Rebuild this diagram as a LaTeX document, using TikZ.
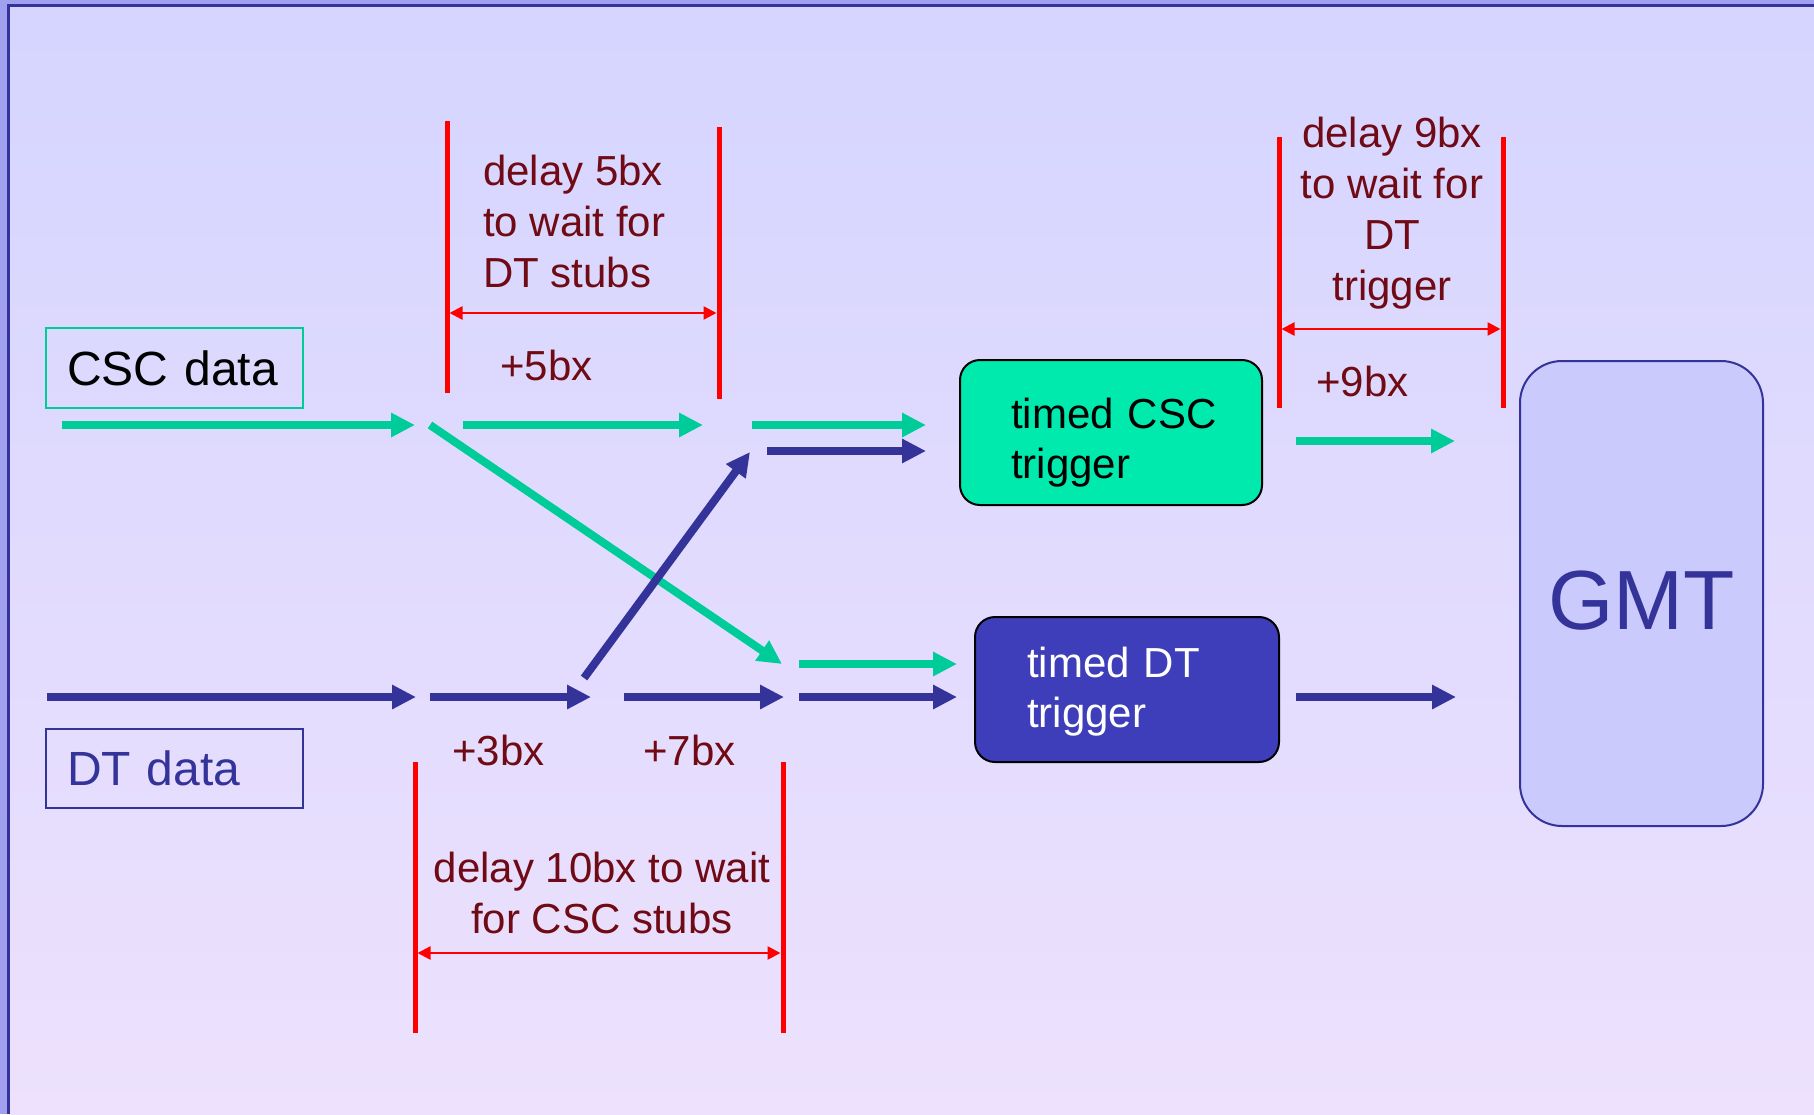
\documentclass[tikz,border=0pt]{standalone}
\usepackage{fontspec}
\setmainfont{Liberation Sans}
\usetikzlibrary{arrows.meta,calc}

\definecolor{cscgreen}{RGB}{0,204,153}
\definecolor{cscfill}{RGB}{0,234,174}
\definecolor{dtblue}{RGB}{51,51,153}
\definecolor{dtfill}{RGB}{62,62,186}
\definecolor{gmtfill}{RGB}{202,202,252}
\definecolor{delayred}{RGB}{112,10,20}
\definecolor{bgtop}{RGB}{213,213,255}
\definecolor{bgbottom}{RGB}{237,225,253}
\definecolor{bgedge}{RGB}{160,160,238}

\tikzset{
  flow/.style={line width=8pt,-{Triangle[length=24pt,width=23pt]}},
  cscflow/.style={flow,cscgreen},
  dtflow/.style={flow,dtblue},
  bar/.style={red,line width=5pt},
  span/.style={red,line width=2.5pt,{Triangle[length=13pt,width=13pt]}-{Triangle[length=13pt,width=13pt]},shorten <=2.5pt,shorten >=2.5pt},
  note/.style={delayred,inner sep=0pt,font=\fontsize{42}{51}\selectfont},
  databox/.style={line width=2pt,minimum width=257pt,text width=215pt,inner xsep=21pt,align=left,font=\fontsize{48}{58}\selectfont},
  trigbox/.style={draw=black,line width=2pt,rounded corners=20pt,inner ysep=0pt,align=left,font=\fontsize{42}{50}\selectfont},
}

\begin{document}
\begin{tikzpicture}[x=1pt,y=-1pt]
\useasboundingbox (0,0) rectangle (1814,1114);
% slide background
\fill[bgedge] (0,0) rectangle (1814,1114);
\shade[top color=bgtop,bottom color=bgbottom] (8.5,5.3) rectangle (1814,1114);
\draw[dtblue,line width=2.7pt] (8.5,1114) -- (8.5,5.3) -- (1814,5.3);

% boxes
\node[databox,draw=cscgreen,minimum height=80pt] (cscdata) at (174.5,368) {CSC data};
\node[databox,draw=dtblue,text=dtblue,minimum height=79pt] (dtdata) at (174.5,768.5) {DT data};
\node[trigbox,fill=cscfill,minimum width=302pt,text width=200pt,text height=68pt,text depth=77pt] (tcsc) at (1111,432.5) {timed~CSC\\trigger};
\node[trigbox,fill=dtfill,text=white,minimum width=304pt,text width=200pt,text height=60pt,text depth=85pt] (tdt) at (1127,689.5) {timed DT\\trigger};
\node[draw=dtblue,line width=2pt,fill=gmtfill,rounded corners=42pt,minimum width=243pt,minimum height=465pt,text=dtblue,text height=71pt,text depth=0pt,font=\fontsize{84}{100}\selectfont] (gmt) at (1641.5,593.5) {GMT};

% CSC path
\coordinate (c0) at (62,425); \coordinate (c1) at (415,425); \coordinate (c2) at (430,425); \coordinate (c3) at (463,425);
\coordinate (c4) at (703,425); \coordinate (c5) at (752,425); \coordinate (c6) at (926,425); \coordinate (c7) at (782,664);
\coordinate (c8) at (799,664); \coordinate (c9) at (957,664); \coordinate (c10) at (1296,441); \coordinate (c11) at (1455,441);
\foreach \a/\b in {c0/c1,c3/c4,c5/c6,c2/c7,c8/c9,c10/c11}{\draw[cscflow] (\a) -- (\b);}

% DT path
\coordinate (d0) at (47,697); \coordinate (d1) at (416,697); \coordinate (d2) at (430,697); \coordinate (d3) at (591,697);
\coordinate (d4) at (584,678); \coordinate (d5) at (750,452); \coordinate (d6) at (767,451); \coordinate (d7) at (926,451);
\coordinate (d8) at (624,697); \coordinate (d9) at (784,697); \coordinate (d10) at (799,697); \coordinate (d11) at (957,697);
\coordinate (d12) at (1296,697); \coordinate (d13) at (1456,697);
\foreach \a/\b in {d0/d1,d2/d3,d4/d5,d6/d7,d8/d9,d10/d11,d12/d13}{\draw[dtflow] (\a) -- (\b);}

% delay windows
\coordinate (p0) at (447,121); \coordinate (p1) at (447,393); \coordinate (p2) at (719,127); \coordinate (p3) at (719,399);
\coordinate (p4) at (1279,137); \coordinate (p5) at (1279,408); \coordinate (p6) at (1503,137); \coordinate (p7) at (1503,408);
\coordinate (p8) at (415,762); \coordinate (p9) at (415,1033); \coordinate (p10) at (783,762); \coordinate (p11) at (783,1033);
\foreach \a/\b in {p0/p1,p2/p3,p4/p5,p6/p7,p8/p9,p10/p11}{\draw[bar] (\a) -- (\b);}
\coordinate (s0) at (447,313); \coordinate (s1) at (719,313); \coordinate (s2) at (1279,329); \coordinate (s3) at (1503,329);
\coordinate (s4) at (415,953); \coordinate (s5) at (783,953);
\foreach \a/\b in {s0/s1,s2/s3,s4/s5}{\draw[span] (\a) -- (\b);}

% delay labels (base = last line)
\node[note,anchor=base west,align=left] (wait5) at (483,287) {delay 5bx\\to wait for\\DT stubs};
\node[note,anchor=base,align=center] (wait9) at (1392,300) {delay 9bx\\to wait for\\DT\\trigger};
\node[note,anchor=base,align=center] (wait10) at (602,933) {delay 10bx to wait\\for CSC stubs};
\node[note,anchor=base west] (plus5) at (500,380) {+5bx};
\node[note,anchor=base west] (plus9) at (1316,396) {+9bx};
\node[note,anchor=base west] (plus3) at (452,765) {+3bx};
\node[note,anchor=base west] (plus7) at (643,765) {+7bx};
\end{tikzpicture}
\end{document}
